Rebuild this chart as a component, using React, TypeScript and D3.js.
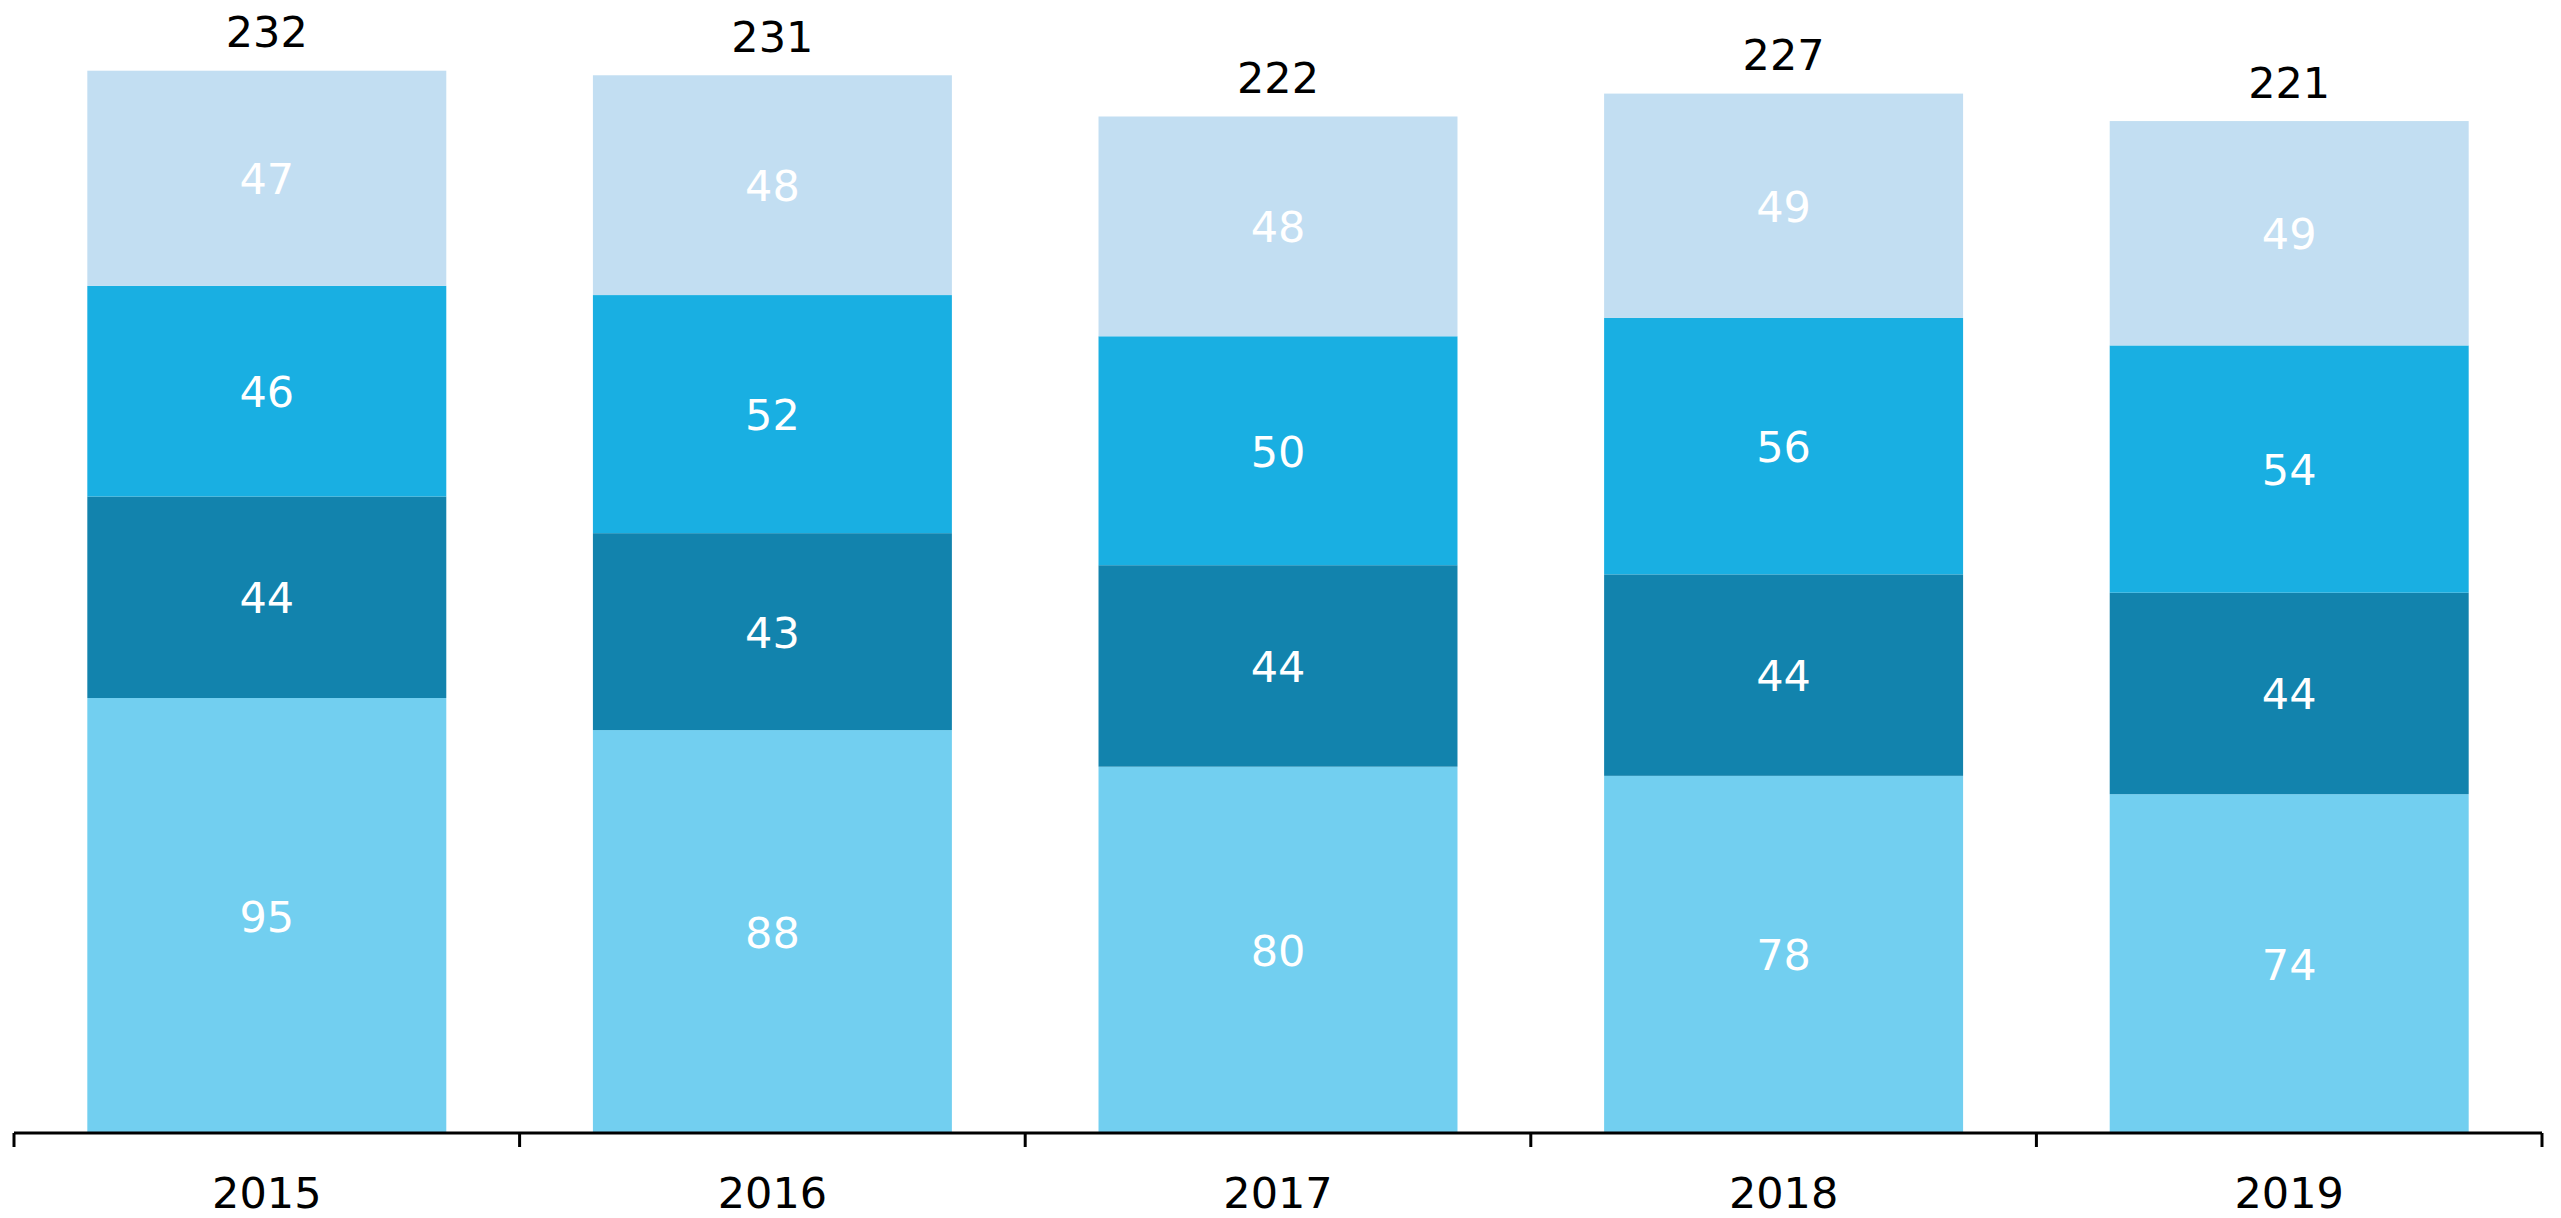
import React, { useEffect, useRef } from 'react';
import * as d3 from 'd3';

const years = ['2015', '2016', '2017', '2018', '2019'];
// stacked from bottom to top
const seriesA = [95, 88, 80, 78, 74];
const seriesB = [44, 43, 44, 44, 44];
const seriesC = [46, 52, 50, 56, 54];
const seriesD = [47, 48, 48, 49, 49];
const seriesColors = ['#72cff0', '#1283ad', '#19afe2', '#c2def2'];

const W = 2561;
const H = 1218;

const App: React.FC = () => {
  const svgRef = useRef<SVGSVGElement>(null);

  useEffect(() => {
    if (!svgRef.current) return;
    const svg = d3.select(svgRef.current);
    svg.selectAll('*').remove();

    const keys = ['a', 'b', 'c', 'd'];
    const rows = years.map((year, i) => ({
      year,
      a: seriesA[i],
      b: seriesB[i],
      c: seriesC[i],
      d: seriesD[i],
    }));
    const totals = rows.map(r => r.a + r.b + r.c + r.d);

    const axisY = 1133;
    const x = d3.scaleBand<string>()
      .domain(years)
      .range([14, 2542])
      .paddingInner(0.29)
      .paddingOuter(0.145);

    const y = d3.scaleLinear()
      .domain([0, 232])
      .range([axisY, 70.7]);

    const layers = d3.stack<any>().keys(keys)(rows);

    const font = '"DejaVu Sans", Verdana, sans-serif';
    const fontSize = '43px';

    const g = svg.append('g');

    layers.forEach((layer, li) => {
      const lg = g.append('g');
      lg.selectAll('rect')
        .data(layer)
        .enter()
        .append('rect')
        .attr('x', d => x(d.data.year)!)
        .attr('width', x.bandwidth())
        .attr('y', d => y(d[1]))
        .attr('height', d => y(d[0]) - y(d[1]))
        .attr('fill', seriesColors[li]);

      // segment value labels
      lg.selectAll('text')
        .data(layer)
        .enter()
        .append('text')
        .attr('x', d => x(d.data.year)! + x.bandwidth() / 2)
        .attr('y', d => (y(d[0]) + y(d[1])) / 2 + 16)
        .attr('text-anchor', 'middle')
        .style('font-family', font)
        .style('font-size', fontSize)
        .style('fill', '#ffffff')
        .text(d => d[1] - d[0]);
    });

    // totals above bars
    g.append('g')
      .selectAll('text')
      .data(rows)
      .enter()
      .append('text')
      .attr('x', d => x(d.year)! + x.bandwidth() / 2)
      .attr('y', (d, i) => y(totals[i]) - 23.5)
      .attr('text-anchor', 'middle')
      .style('font-family', font)
      .style('font-size', fontSize)
      .style('fill', '#000000')
      .text((d, i) => totals[i]);

    // x axis, ticks sit between categories
    const axis = svg.append('g');
    const [r0, r1] = x.range();
    axis.append('line')
      .attr('x1', r0)
      .attr('x2', r1)
      .attr('y1', axisY)
      .attr('y2', axisY)
      .attr('stroke', '#000')
      .attr('stroke-width', 3);

    const tickPos = d3.range(years.length + 1).map(i => r0 + i * (r1 - r0) / years.length);
    axis.selectAll('line.tick')
      .data(tickPos)
      .enter()
      .append('line')
      .attr('class', 'tick')
      .attr('x1', d => d)
      .attr('x2', d => d)
      .attr('y1', axisY)
      .attr('y2', axisY + 14)
      .attr('stroke', '#000')
      .attr('stroke-width', 3);

    axis.selectAll('text')
      .data(years)
      .enter()
      .append('text')
      .attr('x', d => x(d)! + x.bandwidth() / 2)
      .attr('y', 1208)
      .attr('text-anchor', 'middle')
      .style('font-family', font)
      .style('font-size', fontSize)
      .style('fill', '#000')
      .text(d => d);
  }, []);

  return (
    <svg
      ref={svgRef}
      width={W}
      height={H}
      style={{ position: 'absolute', left: 0, top: 0, background: '#ffffff' }}
    />
  );
};

export default App;
